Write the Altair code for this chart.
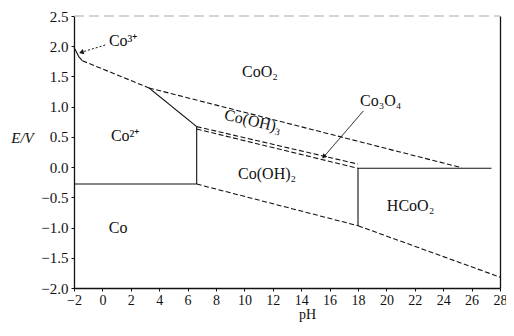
import altair as alt
import pandas as pd

# ---- phase-boundary lines (pH, E/V) ----
co3_curve_ph = [-2.0, -1.64, -1.41]
co3_curve_e = [1.98, 1.82, 1.76]
co3_co2_ph = [-1.41, 3.28]
co3_co2_e = [1.76, 1.31]
co2_cooh3_ph = [3.28, 6.64]
co2_cooh3_e = [1.31, 0.67]
coo2_cooh3_ph = [3.28, 25.3]
coo2_cooh3_e = [1.31, -0.01]
cooh3_co3o4_ph = [6.64, 18.0]
cooh3_co3o4_e = [0.67, 0.05]
co3o4_cooh2_ph = [6.64, 18.0]
co3o4_cooh2_e = [0.63, -0.02]
co2_cooh2_ph = [6.64, 6.64]
co2_cooh2_e = [0.67, -0.28]
co_co2_ph = [-2.0, 6.64]
co_co2_e = [-0.28, -0.28]
co_cooh2_ph = [6.64, 18.0]
co_cooh2_e = [-0.28, -0.97]
co_hcoo2_ph = [18.0, 28.0]
co_hcoo2_e = [-0.97, -1.82]
cooh2_hcoo2_ph = [18.0, 18.0]
cooh2_hcoo2_e = [-0.02, -0.97]
hcoo2_top_ph = [18.0, 27.4]
hcoo2_top_e = [-0.02, -0.02]

# ---- region labels ----
label_text = ["Co³⁺", "CoO₂", "Co(OH)₃", "Co₃O₄", "Co²⁺", "Co(OH)₂", "HCoO₂", "Co"]
label_ph = [1.46, 11.1, 10.6, 19.6, 1.6, 11.6, 21.7, 1.11]
label_e = [2.09, 1.57, 0.76, 1.09, 0.51, -0.11, -0.64, -1.01]
label_angle = [0, 0, 13, 0, 0, 0, 0, 0]

# ---- pointer arrows (start -> tip) ----
arrow_names = ["co3plus", "co3o4"]
arrow_ph = [[0.2, -1.48], [18.38, 15.59]]
arrow_e = [[2.02, 1.90], [0.93, 0.17]]
arrow_head_angle = [254, 221]

# ---- axis ticks ----
x_ticks = [-2, 0, 2, 4, 6, 8, 10, 12, 14, 16, 18, 20, 22, 24, 26, 28]
y_ticks = [-2.0, -1.5, -1.0, -0.5, 0.0, 0.5, 1.0, 1.5, 2.0, 2.5]

segments = {
    "co3_curve": (co3_curve_ph, co3_curve_e),
    "co3_co2": (co3_co2_ph, co3_co2_e),
    "co2_cooh3": (co2_cooh3_ph, co2_cooh3_e),
    "coo2_cooh3": (coo2_cooh3_ph, coo2_cooh3_e),
    "cooh3_co3o4": (cooh3_co3o4_ph, cooh3_co3o4_e),
    "co3o4_cooh2": (co3o4_cooh2_ph, co3o4_cooh2_e),
    "co2_cooh2": (co2_cooh2_ph, co2_cooh2_e),
    "co_co2": (co_co2_ph, co_co2_e),
    "co_cooh2": (co_cooh2_ph, co_cooh2_e),
    "co_hcoo2": (co_hcoo2_ph, co_hcoo2_e),
    "cooh2_hcoo2": (cooh2_hcoo2_ph, cooh2_hcoo2_e),
    "hcoo2_top": (hcoo2_top_ph, hcoo2_top_e),
}
dashed = {"co3_co2", "coo2_cooh3", "cooh3_co3o4", "co3o4_cooh2", "co_cooh2", "co_hcoo2"}

rows = []
for name, (phs, es) in segments.items():
    for i, (p, e) in enumerate(zip(phs, es)):
        rows.append({"seg": name, "i": i, "ph": p, "e": e,
                     "style": "dashed" if name in dashed else "solid"})
df_lines = pd.DataFrame(rows)

df_labels = pd.DataFrame({"text": label_text, "ph": label_ph, "e": label_e, "angle": label_angle})

arows = []
for n, phs, es in zip(arrow_names, arrow_ph, arrow_e):
    for i, (p, e) in enumerate(zip(phs, es)):
        arows.append({"arrow": n, "i": i, "ph": p, "e": e,
                      "style": "dotted" if n == "co3plus" else "solid"})
df_arrows = pd.DataFrame(arows)
df_heads = pd.DataFrame({"ph": [a[1] for a in arrow_ph], "e": [a[1] for a in arrow_e],
                         "angle": arrow_head_angle})

# faint top line of the frame
df_top = pd.DataFrame({"ph": [-2], "ph2": [28], "e": [2.5]})

FONT = "Liberation Serif"
xscale = alt.Scale(domain=[-2, 28], nice=False, zero=False)
yscale = alt.Scale(domain=[-2.0, 2.5], nice=False, zero=False)

xaxis = alt.Axis(values=x_ticks, format="d", grid=False, title="pH",
                 labelFont=FONT, labelFontSize=14, labelColor="#111", labelOverlap=False,
                 tickSize=3, tickColor="#111", domainColor="#111", domainWidth=1.3,
                 labelPadding=2, titleFont=FONT, titleFontSize=14, titleFontWeight="normal",
                 titleColor="#111", titleX=233, titleY=26, titleBaseline="middle",
                 titleAlign="center", labelFlush=False)
yaxis = alt.Axis(orient="left", values=y_ticks, format=".1f", grid=False, title="E/V",
                 labelFont=FONT, labelFontSize=15, labelColor="#111", labelOverlap=False,
                 tickSize=3, tickColor="#111", domainColor="#111", domainWidth=1.3,
                 labelPadding=3, titleFont=FONT, titleFontSize=15, titleFontWeight="normal",
                 titleFontStyle="italic", titleColor="#111", titleAngle=0,
                 titleX=-52, titleY=121, titleAlign="center", titleBaseline="middle",
                 labelFlush=False)
# right-hand frame edge drawn as a bare axis domain line
yaxis_right = alt.Axis(orient="right", labels=False, ticks=False, grid=False, title="",
                       domainColor="#111", domainWidth=1.3)

X = alt.X("ph:Q", scale=xscale, axis=xaxis)
Y = alt.Y("e:Q", scale=yscale, axis=yaxis)
Y_right = alt.Y("e:Q", scale=yscale, axis=yaxis_right)

top_edge = alt.Chart(df_top).mark_rule(color="#aaa", strokeWidth=1.2, strokeDash=[10, 5]).encode(
    x=X, x2="ph2:Q", y=Y)

lines = alt.Chart(df_lines).mark_line(color="#111", strokeWidth=1.1).encode(
    x=X, y=Y, detail="seg:N", order="i:Q",
    strokeDash=alt.StrokeDash("style:N", scale=alt.Scale(domain=["solid", "dashed"], range=[[1, 0], [5, 2.5]]), legend=None),
)

arrows = alt.Chart(df_arrows).mark_line(color="#111", strokeWidth=1.0).encode(
    x=X, y=Y, detail="arrow:N", order="i:Q",
    strokeDash=alt.StrokeDash("style:N", scale=alt.Scale(domain=["solid", "dotted"], range=[[1, 0], [2, 2]]), legend=None),
)

heads = alt.Chart(df_heads).mark_point(shape="triangle-up", filled=True, size=28, color="#111", opacity=1).encode(
    x=X, y=Y, angle=alt.Angle("angle:Q", scale=None),
)

labels = alt.Chart(df_labels).mark_text(font=FONT, fontSize=16, color="#111").encode(
    x=X, y=Y, text="text:N", angle=alt.Angle("angle:Q", scale=None),
)

right_edge = alt.Chart(df_top).mark_rule(opacity=0).encode(x=X, y=Y_right)

main = alt.layer(top_edge, lines, arrows, heads, labels).resolve_scale(strokeDash="independent")

chart = alt.layer(main, right_edge).properties(
    width=426, height=272,
    padding={"left": 66, "top": 8, "right": 6, "bottom": 34},
    autosize=alt.AutoSizeParams(type="none"),
    background="white",
).resolve_axis(y="independent").configure_view(stroke=None).configure_axis(labelOverlap=False)

chart.save("out.html", embed_options={"renderer": "svg", "actions": False})
